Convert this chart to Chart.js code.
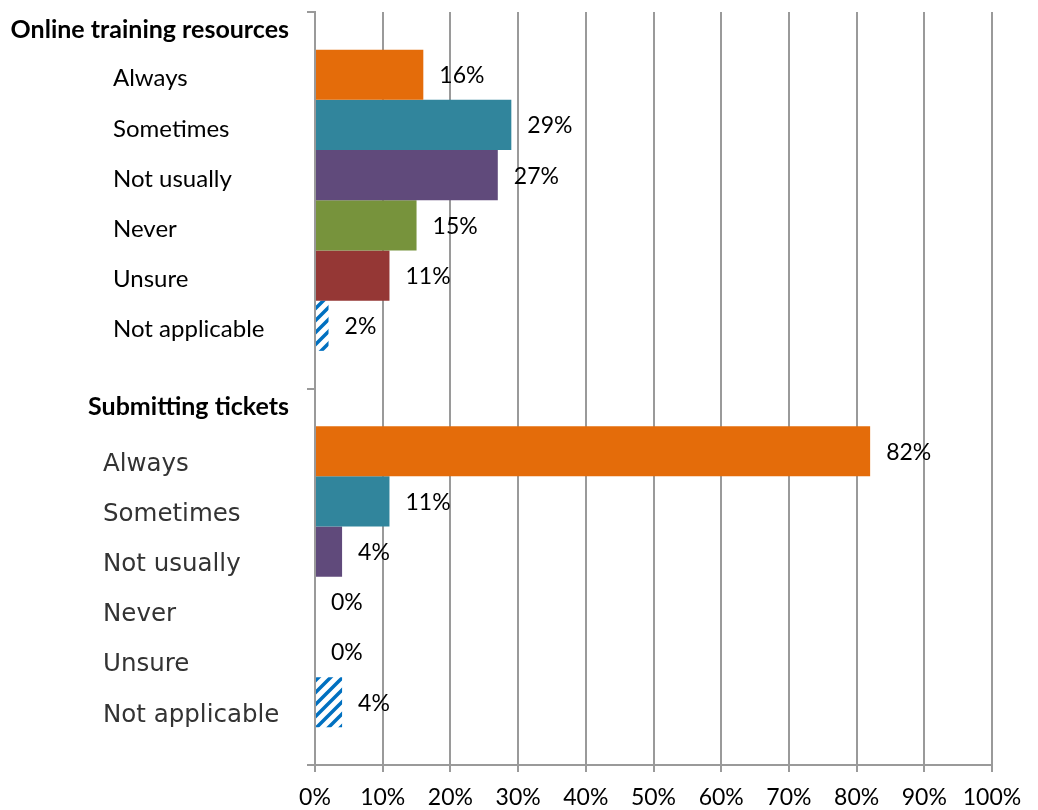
<!DOCTYPE html>
<html lang="en">
<head>
    <meta charset="UTF-8">
    <title>Online training resources / Submitting tickets</title>
    <script src="https://cdn.jsdelivr.net/npm/chart.js"></script>
    <style>
        body {
            margin: 0;
            padding: 0;
            background-color: #fff;
        }

        .chart-box {
            width: 1038px;
            height: 810px;
        }
    </style>
</head>
<body>
    <div class="chart-box">
        <canvas id="usageChart" width="1038" height="810"></canvas>
    </div>

    <script>
        // survey results, in percent
        var groups = ['Online training resources', 'Submitting tickets'];
        var answers = ['Always', 'Sometimes', 'Not usually', 'Never', 'Unsure', 'Not applicable'];
        var onlineTraining = [16, 29, 27, 15, 11, 2];
        var submittingTickets = [82, 11, 4, 0, 0, 4];
        var xTickValues = [0, 10, 20, 30, 40, 50, 60, 70, 80, 90, 100];

        var barColors = ['#E46C0A', '#31859C', '#604A7B', '#77933C', '#953735'];

        // blue diagonal stripes for "Not applicable"
        function stripePattern() {
            var tile = document.createElement('canvas');
            tile.width = 12;
            tile.height = 12;
            var c = tile.getContext('2d');
            c.fillStyle = '#fff';
            c.fillRect(0, 0, 12, 12);
            c.strokeStyle = '#0070C0';
            c.lineWidth = 3.5;
            c.beginPath();
            c.moveTo(-3, 15); c.lineTo(15, -3);
            c.moveTo(-9, 9); c.lineTo(9, -9);
            c.moveTo(3, 21); c.lineTo(21, 3);
            c.stroke();
            return document.getElementById('usageChart').getContext('2d').createPattern(tile, 'repeat');
        }

        var datasets = answers.map(function (answer, i) {
            return {
                label: answer,
                data: [onlineTraining[i], submittingTickets[i]],
                backgroundColor: i < barColors.length ? barColors[i] : stripePattern()
            };
        });

        // group headings, answer names and value labels
        var sideLabels = {
            id: 'sideLabels',
            afterDatasetsDraw: function (chart) {
                var ctx = chart.ctx;
                var yScale = chart.scales.y;
                var band = yScale.height / groups.length;
                ctx.save();
                ctx.textBaseline = 'middle';

                // headings
                ctx.font = 'bold 25px Lato';
                ctx.fillStyle = '#000';
                ctx.textAlign = 'right';
                groups.forEach(function (g, j) {
                    ctx.fillText(g, 289, yScale.top + j * band + 18);
                });

                chart.data.datasets.forEach(function (ds, i) {
                    var meta = chart.getDatasetMeta(i);
                    meta.data.forEach(function (bar, j) {
                        // value
                        ctx.font = '23px Lato';
                        ctx.fillStyle = '#000';
                        ctx.textAlign = 'left';
                        ctx.fillText(ds.data[j] + '%', bar.x + 16, bar.y + 1);

                        // answer name
                        if (j === 0) {
                            ctx.font = '24px Lato';
                            ctx.fillText(ds.label, 113, bar.y + 4);
                        } else {
                            ctx.save();
                            ctx.font = '24.5px "DejaVu Sans"';
                            ctx.fillStyle = '#333';
                            ctx.filter = 'blur(0.5px)';
                            ctx.fillText(ds.label, 103, bar.y + 13);
                            ctx.restore();
                        }
                    });
                });
                ctx.restore();
            }
        };

        new Chart(document.getElementById('usageChart'), {
            type: 'bar',
            data: {
                labels: groups,
                datasets: datasets
            },
            plugins: [sideLabels],
            options: {
                indexAxis: 'y',
                responsive: false,
                animation: false,
                events: [],
                layout: {
                    padding: { top: 12, right: 46, left: 0, bottom: 0 }
                },
                datasets: {
                    bar: {
                        categoryPercentage: 0.8,
                        barPercentage: 1.0
                    }
                },
                plugins: {
                    legend: { display: false },
                    tooltip: { enabled: false }
                },
                scales: {
                    x: {
                        min: 0,
                        max: 100,
                        afterBuildTicks: function (scale) {
                            scale.ticks = xTickValues.map(function (v) { return { value: v }; });
                        },
                        afterFit: function (scale) {
                            scale.height = 45;
                        },
                        grid: {
                            color: '#9a9a9a',
                            lineWidth: 2,
                            tickLength: 7
                        },
                        border: { display: true, color: '#9a9a9a', width: 2 },
                        ticks: {
                            padding: 12,
                            color: '#000',
                            font: { family: 'Lato', size: 23 },
                            callback: function (v) { return v + '%'; }
                        }
                    },
                    y: {
                        afterFit: function (scale) {
                            scale.width = 315;
                        },
                        grid: {
                            offset: true,
                            drawOnChartArea: false,
                            color: '#9a9a9a',
                            lineWidth: 2,
                            tickLength: 8
                        },
                        border: { display: true, color: '#9a9a9a', width: 2 },
                        ticks: { display: false }
                    }
                }
            }
        });
    </script>
</body>
</html>
